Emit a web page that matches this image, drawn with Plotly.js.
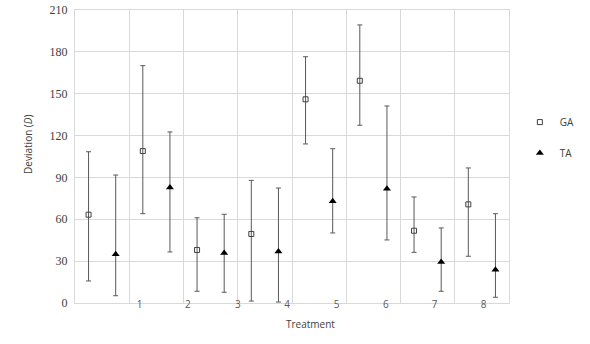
<!DOCTYPE html>
<html>
<head>
<meta charset="utf-8">
<script src="https://cdn.plot.ly/plotly-3.0.1.min.js"></script>
<style>html,body{margin:0;padding:0;background:#fff;}#chart{width:590px;height:344px;}</style>
</head>
<body>
<div id="chart"></div>
<script>
// Treatment tick labels and their positions on the x axis
const treatmentLabels = ["1", "2", "3", "4", "5", "6", "7", "8"];
const treatmentLabelPos = [1.19, 2.08, 3.0, 3.91, 4.82, 5.73, 6.63, 7.53];

// point positions (band index + offset)
const gaPos = [0.25, 1.25, 2.25, 3.25, 4.25, 5.25, 6.25, 7.25];
const taPos = [0.75, 1.75, 2.75, 3.75, 4.75, 5.75, 6.75, 7.75];

// GA series
const gaMean  = [63.3, 108.9, 38.0, 49.5, 146.0, 159.3, 51.8, 70.7];
const gaUpper = [108.4, 170.1, 61.1, 87.9, 176.5, 199.3, 76.0, 96.8];
const gaLower = [15.8, 64.0, 8.4, 1.4, 114.0, 127.4, 36.3, 33.5];

// TA series
const taMean  = [34.9, 82.7, 35.8, 37.0, 72.9, 81.9, 29.4, 23.9];
const taUpper = [91.7, 122.6, 63.6, 82.4, 110.6, 141.2, 53.8, 64.0];
const taLower = [5.2, 36.6, 7.7, 0.7, 50.2, 45.2, 8.4, 4.1];

const errStyle = {type: 'data', symmetric: false, color: '#595959', thickness: 1, width: 2.5};

const traces = [
  {
    name: 'GA', x: gaPos, y: gaMean, type: 'scatter', mode: 'markers',
    legendgroup: 'g1',
    marker: {symbol: 'square-open', size: 5, color: '#404040', line: {width: 1, color: '#404040'}},
    error_y: Object.assign({}, errStyle, {
      array: gaUpper.map((u, i) => u - gaMean[i]),
      arrayminus: gaLower.map((l, i) => gaMean[i] - l)
    })
  },
  {
    name: 'TA', x: taPos, y: taMean, type: 'scatter', mode: 'markers',
    legendgroup: 'g2',
    marker: {symbol: 'triangle-up', size: 7, color: '#000000'},
    error_y: Object.assign({}, errStyle, {
      array: taUpper.map((u, i) => u - taMean[i]),
      arrayminus: taLower.map((l, i) => taMean[i] - l)
    })
  }
];

const layout = {
  width: 590, height: 344,
  margin: {l: 75, r: 61, t: 10, b: 41},
  paper_bgcolor: '#ffffff', plot_bgcolor: '#ffffff',
  font: {color: '#404040'},
  showlegend: true,
  legend: {
    x: 1.025, xanchor: 'left', y: 0.667, yanchor: 'top',
    font: {family: "'Open Sans', sans-serif", size: 10, color: '#404040'},
    tracegroupgap: 12, traceorder: 'grouped', itemwidth: 30
  },
  xaxis: {
    range: [0, 8], fixedrange: true,
    tickmode: 'array', tickvals: treatmentLabelPos, ticktext: treatmentLabels,
    showgrid: false, zeroline: false, ticks: '',
    ticklabelstandoff: -8,
    tickfont: {family: "'Open Sans', sans-serif", size: 10, color: '#595959'},
    showline: true, linecolor: '#d9d9d9', linewidth: 1, mirror: true,
    minor: {tickmode: 'linear', tick0: 0, dtick: 1, showgrid: true, gridcolor: '#d9d9d9', gridwidth: 1, ticks: ''}
  },
  yaxis: {
    range: [0, 210], fixedrange: true,
    tickmode: 'linear', tick0: 0, dtick: 30,
    showgrid: true, gridcolor: '#d9d9d9', gridwidth: 1, zeroline: false, ticks: '',
    ticklabelstandoff: 4,
    tickfont: {family: "'Liberation Serif', 'DejaVu Serif', serif", size: 12, color: '#404040'},
    showline: true, linecolor: '#d9d9d9', linewidth: 1, mirror: true
  },
  annotations: [
    {
      text: 'Treatment', xref: 'paper', yref: 'paper', x: (321 - 75) / 454, y: -0.04,
      xanchor: 'center', yanchor: 'top', showarrow: false,
      font: {family: "'Open Sans', sans-serif", size: 10, color: '#404040'}
    },
    {
      text: 'Deviation (<i>D</i>)', xref: 'paper', yref: 'paper', x: -0.108, y: 0.54,
      xanchor: 'center', yanchor: 'middle', showarrow: false, textangle: -90,
      font: {family: "'Open Sans', sans-serif", size: 10, color: '#404040'}
    }
  ]
};

Plotly.newPlot('chart', traces, layout, {displayModeBar: false, staticPlot: true});
</script>
</body>
</html>
